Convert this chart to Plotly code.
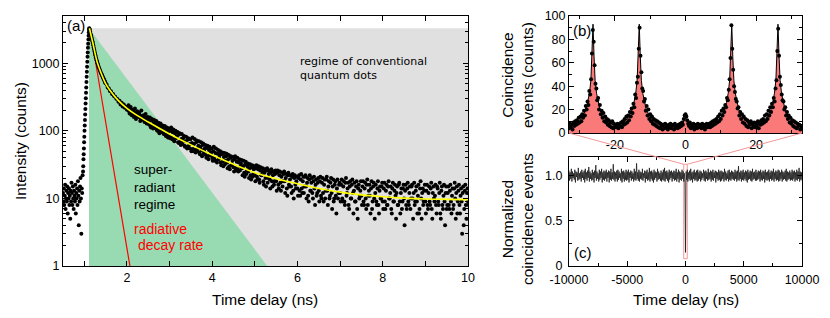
import numpy as np
import plotly.graph_objects as go

W, H = 830, 318          # browser window
OFF = 8                  # default page body margin
FW, FH = W - 2 * OFF, H - 2 * OFF

# ---------------- Panel (a): time-resolved PL (log scale) ----------------
pre_t0, pre_dt = 0.50, 0.01
pre_counts = [12, 9, 14, 8, 11, 16, 7, 10, 13, 9, 15, 6, 12, 10, 14, 8, 11, 5, 13, 9,
              17, 12, 8, 15, 10, 7, 13, 11, 9, 16, 6, 12, 10, 14, 8, 18, 11, 4, 13, 9,
              15, 20, 10, 3, 14, 12, 22]
rise_t0, rise_dt = 0.97, 0.005
rise_counts = [25, 30, 38, 45, 55, 68, 82, 100, 120, 145, 175, 210, 255, 305, 365, 440,
               530, 630, 750, 890, 1050, 1250, 1450, 1700, 1950, 2250, 2550, 2850, 3100, 3300]
early_t0, early_dt = 1.12, 0.01
early_counts = [3250, 3100, 2900, 2700, 2550, 2400, 2250, 2120, 2000, 1850, 1720, 1600, 1500,
                1400, 1310, 1230, 1160, 1100, 1050, 1000, 950, 910, 870, 840, 800, 775, 745,
                720, 700, 675, 655, 630, 610, 595, 575, 560, 540, 520, 505]
decay_t0, decay_dt = 1.525, 0.025
decay_counts = [
    480, 440, 425, 390, 385, 350, 350, 325, 320, 300, 295, 270, 280, 245, 260, 230, 245, 220, 228, 205,
    212, 195, 215, 190, 185, 200, 172, 180, 168, 190, 160, 170, 150, 165, 158, 142, 155, 138, 148, 132,
    140, 118, 142, 122, 128, 110, 130, 104, 121, 99, 115, 96, 112, 94, 106, 88, 103, 85, 96, 82,
    100, 80, 95, 74, 92, 78, 84, 68, 88, 70, 76, 64, 80, 60, 70, 58, 74, 56, 64, 54,
    66, 54, 64, 52, 68, 50, 60, 48, 58, 52, 62, 46, 55, 44, 56, 42, 52, 44, 48, 40,
    50, 40, 47, 36, 46, 38, 44, 34, 45, 35, 41, 32, 42, 34, 38, 30, 40, 31, 36, 29,
    38, 28, 35, 27, 34, 26, 33, 28, 30, 24, 32, 23, 30, 25, 28, 22, 29, 21, 27, 22,
    28, 21, 27, 19, 26, 22, 25, 18, 24, 20, 26, 17, 23, 19, 24, 18, 22, 16, 23, 18,
    24, 16, 22, 17, 21, 15, 23, 18, 20, 14, 22, 16, 19, 15, 21, 13, 20, 16, 18, 14,
    20, 13, 19, 14, 18, 12, 21, 15, 17, 11, 19, 13, 17, 12, 18, 14, 16, 11, 17, 13,
    18, 11, 17, 12, 16, 10, 19, 13, 15, 10, 17, 12, 15, 9, 16, 11, 14, 10, 16, 12,
    16, 10, 15, 9, 17, 11, 14, 8, 15, 10, 16, 12, 13, 9, 15, 7, 14, 10, 13, 11,
    15, 9, 14, 10, 16, 8, 13, 11, 14, 7, 15, 10, 12, 9, 14, 8, 13, 10, 15, 9,
    14, 9, 13, 8, 15, 10, 12, 7, 14, 9, 13, 11, 12, 8, 16, 9, 12, 7, 14, 10,
    13, 8, 14, 9, 12, 7, 15, 10, 12, 8, 13, 9, 11, 6, 14, 10, 12, 8, 13, 9,
    13, 8, 12, 9, 14, 7, 12, 10, 11, 8, 15, 9, 12, 6, 13, 8, 11, 9, 12, 7,
    12, 8, 13, 9, 11, 7, 14, 10, 12, 6, 13, 8, 11, 9, 12, 4, 13, 8, 12, 9]
# second (interleaved) set of time bins, offset by half a bin
decay2_t0, decay2_dt = 2.0375, 0.025
decay2_counts = [
    240, 180, 225, 170, 205, 160, 215, 150, 195, 175, 185, 140, 200, 148, 170, 135, 178, 128, 160, 125,
    158, 112, 150, 108, 145, 118, 140, 100, 132, 92, 128, 105, 120, 90, 118, 84, 112, 80, 108, 78,
    112, 75, 105, 70, 100, 82, 96, 66, 92, 62, 90, 72, 84, 58, 82, 55, 78, 62, 75, 50,
    80, 50, 76, 48, 72, 56, 70, 45, 68, 42, 65, 50, 62, 40, 60, 38, 58, 45, 55, 36,
    58, 36, 55, 34, 52, 40, 50, 31, 48, 30, 47, 36, 46, 28, 44, 27, 42, 32, 41, 25,
    42, 26, 40, 25, 38, 30, 37, 22, 36, 21, 35, 26, 33, 20, 32, 19, 31, 23, 30, 18,
    31, 19, 30, 17, 29, 22, 28, 16, 27, 15, 28, 20, 26, 14, 27, 15, 25, 18, 26, 13,
    26, 14, 25, 13, 24, 18, 25, 12, 23, 11, 24, 15, 22, 12, 23, 10, 22, 14, 21, 11,
    22, 11, 23, 12, 21, 15, 22, 10, 20, 9, 22, 13, 20, 10, 21, 8, 19, 12, 20, 9,
    21, 10, 20, 9, 19, 13, 21, 8, 18, 11, 20, 7, 19, 10, 18, 6, 19, 12, 17, 9,
    19, 9, 18, 8, 20, 12, 17, 7, 18, 10, 19, 6, 17, 9, 18, 5, 16, 11, 18, 8,
    18, 8, 17, 7, 19, 11, 16, 6, 18, 9, 17, 5, 16, 8, 18, 6, 15, 10, 17, 7,
    17, 7, 16, 8, 18, 10, 15, 6, 17, 9, 16, 5, 15, 8, 17, 6, 14, 9, 16, 4,
    16, 7, 17, 8, 15, 10, 16, 5, 17, 9, 15, 6, 16, 7, 18, 5, 14, 9, 16, 6,
    16, 7, 15, 8, 17, 5, 15, 9, 16, 6, 14, 8, 17, 5, 15, 7, 16, 4, 15, 8,
    15, 7, 16, 6, 14, 8, 17, 5, 15, 9, 16, 6, 14, 3, 15, 7, 16, 5, 14, 8]

fit_t = [1.12, 1.2, 1.3, 1.4, 1.5, 1.6, 1.8, 2.0, 2.2, 2.5, 3.0, 3.5, 4.0, 4.5, 5.0, 5.5,
         6.0, 6.5, 7.0, 7.5, 8.0, 8.5, 9.0, 9.5, 10.0]
fit_counts = [3300, 2000, 1050, 700, 500, 400, 280, 215, 175, 135, 90, 62, 44, 32, 24, 19.5,
              16.5, 14, 12.4, 11.3, 10.6, 10.1, 9.8, 9.7, 9.6]

# regions (ns, counts)
conv_region_t = [1.11, 10, 10, 1.11]
conv_region_c = [1, 1, 3300, 3300]
sr_region_t = [1.11, 1.11, 5.29]
sr_region_c = [1, 3300, 1]
rad_rate_t = [1.13, 2.07]
rad_rate_c = [3300, 1]

# ---------------- Panel (b): coincidence histogram ----------------
b_t0, b_dt = -33.0, 0.25
b_counts = [
    4, 8, 5, 7, 3, 9, 6, 10, 7, 11, 8, 13, 9, 14, 10, 16, 13, 19, 15, 23, 20, 27, 24, 36, 33, 46, 68,
    88,
    78, 58, 42, 38, 28, 30, 20, 24, 16, 19, 13, 17, 10, 14, 9, 12, 7, 11, 6, 9, 5, 10, 4, 8, 5, 7,
    5, 8, 4, 7, 6, 9, 5, 10, 7, 12, 8, 14, 9, 15, 11, 18, 14, 21, 17, 25, 22, 33, 30, 43, 48, 72,
    90,
    66, 52, 38, 36, 27, 29, 19, 23, 15, 20, 12, 16, 10, 14, 8, 12, 7, 11, 6, 10, 5, 9, 4, 8, 6, 3,
    7, 4, 8, 5, 6, 3, 7, 5, 8, 4, 6, 7, 3, 8, 5, 6, 4, 7, 5, 8, 6, 9, 7, 12, 15,
    16,
    14, 11, 8, 6, 9, 4, 7, 5, 8, 3, 6, 7, 4, 8, 5, 6, 7, 4, 8, 5, 7, 3, 6, 8, 5,
    6, 8, 5, 9, 6, 10, 7, 11, 8, 12, 9, 14, 10, 16, 12, 19, 15, 21, 18, 24, 22, 30, 28, 37, 46, 64,
    92,
    72, 54, 40, 35, 29, 27, 21, 22, 15, 18, 12, 16, 9, 14, 8, 12, 6, 11, 5, 9, 7, 10, 4, 8, 6, 9,
    5, 8, 6, 10, 4, 9, 7, 11, 8, 12, 9, 15, 10, 16, 12, 19, 15, 22, 18, 25, 22, 30, 27, 38, 45, 70,
    89,
    66, 48, 41, 33, 28, 27, 20, 22, 15, 18, 12, 15, 9, 13, 8, 11, 6, 10, 5, 9, 4, 8, 6, 7, 3, 6, 5]

b_fit_t = [-33, -32, -31, -30, -29.2, -28.2, -27.7, -27.2, -26.8, -26.5, -26.2, -25.9, -25.6,
           -25.2, -24.7, -24.2, -23.2, -22.2, -21.2, -19.65, -18.1, -17.1, -16.1, -15.1, -14.6,
           -14.1, -13.7, -13.4, -13.1, -12.8, -12.5, -12.1, -11.6, -11.1, -10.1, -9.1, -8.1,
           -6.55, -5, -3, -1.5, -0.8, -0.4, 0, 0.4, 0.8, 1.5, 3, 5, 6.55, 8.1, 9.1, 10.1, 11.1,
           11.6, 12.1, 12.5, 12.8, 13.1, 13.4, 13.7, 14.1, 14.6, 15.1, 16.1, 17.1, 18.1, 19.65,
           21.2, 22.2, 23.2, 24.2, 24.7, 25.2, 25.6, 25.9, 26.2, 26.5, 26.8, 27.2, 27.7, 28.2,
           29.2, 30.2, 31.2, 32.2, 33]
b_fit_counts = [6, 7, 8.5, 11, 14, 20, 26, 34, 45, 65, 93, 65, 45, 34, 26, 20, 14, 10, 8, 6,
                8, 10, 14, 20, 26, 34, 45, 65, 93, 65, 45, 34, 26, 20, 14, 10, 8, 6, 5.5, 5.5,
                6, 8, 11, 13, 11, 8, 6, 5.5, 5.5, 6, 8, 10, 14, 20, 26, 34, 45, 65, 93, 65, 45,
                34, 26, 20, 14, 10, 8, 6, 8, 10, 14, 20, 26, 34, 45, 65, 93, 65, 45, 34, 26, 20,
                14, 11, 8.5, 7, 6]
b_xticks = [-20, 0, 20]
b_xticktext = ["-20", "0", "20"]

# ---------------- Panel (c): normalized coincidences (%) ----------------
c_t0, c_dt = -10000, 50
c_norm_pct = [
    105, 94, 103, 96, 107, 93, 104, 97, 102, 95, 106, 92, 104, 98, 103, 94, 108, 95, 102, 96,
    104, 93, 106, 97, 103, 95, 105, 92, 107, 96, 103, 94, 105, 97, 109, 93, 104, 96, 102, 94,
    106, 95, 103, 92, 105, 97, 111, 94, 104, 96, 102, 93, 106, 95, 104, 97, 107, 92, 103, 95,
    105, 94, 104, 96, 106, 93, 103, 97, 105, 92, 104, 95, 107, 94, 103, 96, 112, 95, 104, 93,
    103, 96, 105, 93, 106, 95, 104, 97, 102, 94, 107, 92, 104, 96, 105, 93, 103, 95, 106, 94,
    104, 95, 106, 92, 103, 97, 105, 94, 104, 96, 102, 93, 107, 95, 104, 94, 113, 96, 103, 94,
    106, 93, 104, 96, 103, 95, 107, 94, 102, 97, 105, 92, 104, 96, 106, 94, 103, 95, 108, 93,
    104, 96, 105, 94, 103, 92, 106, 95, 104, 97, 103, 93, 107, 95, 104, 96, 102, 94, 105, 93,
    103, 95, 106, 94, 108, 93, 104, 96, 105, 94, 103, 92, 106, 95, 104, 97, 105, 93, 103, 96,
    105, 94, 104, 95, 107, 93, 103, 96, 106, 92, 104, 95, 103, 94, 106, 96, 104, 93, 102, 95,
    15,
    104, 95, 106, 93, 103, 96, 105, 94, 107, 95, 103, 92, 104, 96, 106, 94, 103, 95, 105, 93,
    106, 94, 103, 96, 105, 93, 104, 95, 102, 97, 106, 94, 104, 93, 105, 96, 103, 94, 107, 95,
    103, 96, 105, 93, 104, 95, 106, 94, 103, 97, 105, 92, 104, 96, 103, 94, 106, 95, 104, 93,
    105, 94, 104, 96, 103, 93, 107, 95, 104, 94, 102, 96, 105, 93, 106, 95, 103, 94, 105, 96,
    104, 95, 103, 94, 106, 96, 104, 93, 105, 95, 110, 94, 103, 96, 105, 93, 104, 95, 106, 94,
    103, 96, 105, 94, 104, 92, 106, 95, 103, 96, 105, 94, 104, 93, 107, 95, 103, 96, 104, 94,
    106, 94, 103, 95, 105, 96, 104, 93, 106, 95, 103, 94, 105, 96, 104, 92, 106, 95, 103, 94,
    104, 95, 106, 93, 103, 96, 105, 94, 104, 95, 107, 93, 103, 96, 105, 94, 104, 95, 106, 93,
    105, 94, 103, 96, 106, 93, 104, 95, 103, 96, 105, 94, 107, 93, 104, 95, 103, 96, 105, 94,
    103, 95, 106, 94, 104, 96, 105, 93, 103, 95, 106, 94, 104, 96, 108, 93, 104, 95, 103, 94]
c_xticks = [-10000, -5000, 0, 5000, 10000]
c_xticktext = ["-10000", "-5000", "0", "5000", "10000"]
zoom_box_t = [-150, 150, 150, -150, -150]
zoom_box_v = [0.08, 0.08, 1.12, 1.12, 0.08]

# ---------------- build series ----------------
def bins(t0, dt, vals):
    return t0 + dt * np.arange(len(vals))

a_t = np.concatenate([bins(pre_t0, pre_dt, pre_counts), bins(rise_t0, rise_dt, rise_counts),
                      bins(early_t0, early_dt, early_counts), bins(decay_t0, decay_dt, decay_counts),
                      bins(decay2_t0, decay2_dt, decay2_counts)])
a_c = np.array(pre_counts + rise_counts + early_counts + decay_counts + decay2_counts, dtype=float)
b_t = bins(b_t0, b_dt, b_counts)
c_t = bins(c_t0, c_dt, c_norm_pct)
c_v = np.array(c_norm_pct) / 100.0

# ---------------- layout geometry (window pixels -> paper) ----------------
def px_x(p):
    return (p - OFF) / FW

def px_y(p):
    return 1 - (p - OFF) / FH

dom_ax = [px_x(63), px_x(468)]
dom_ay = [px_y(266), px_y(16)]
dom_bx = [px_x(569), px_x(802)]
dom_by = [px_y(133), px_y(16)]
dom_cx = dom_bx
dom_cy = [px_y(266), px_y(157)]

FONT = "Liberation Sans, Arial, sans-serif"
tickfont = dict(family=FONT, size=12.5, color="black")

fig = go.Figure()
fig.add_trace(go.Scatter(x=conv_region_t, y=conv_region_c, fill="toself", fillcolor="#e0e0e0",
                         mode="lines", line=dict(width=0), xaxis="x", yaxis="y", hoverinfo="skip"))
fig.add_trace(go.Scatter(x=sr_region_t, y=sr_region_c, fill="toself", fillcolor="rgb(152,219,178)",
                         mode="lines", line=dict(width=0), xaxis="x", yaxis="y", hoverinfo="skip"))
fig.add_trace(go.Scatter(x=rad_rate_t, y=rad_rate_c, mode="lines", line=dict(color="red", width=1.2),
                         xaxis="x", yaxis="y"))
fig.add_trace(go.Scatter(x=a_t, y=a_c, mode="markers", marker=dict(color="black", size=4),
                         xaxis="x", yaxis="y"))
fig.add_trace(go.Scatter(x=fit_t, y=fit_counts, mode="lines", line=dict(color="#ffff00", width=1.6, shape="spline"),
                         xaxis="x", yaxis="y"))

fig.add_trace(go.Scatter(x=b_fit_t, y=b_fit_counts, mode="lines", fill="tozeroy",
                         fillcolor="rgb(250,122,122)", line=dict(color="black", width=1),
                         xaxis="x2", yaxis="y2"))
fig.add_trace(go.Scatter(x=b_t, y=b_counts, mode="markers", marker=dict(color="black", size=4),
                         xaxis="x2", yaxis="y2"))

fig.add_trace(go.Scatter(x=zoom_box_t, y=zoom_box_v, mode="lines",
                         line=dict(color="rgb(245,150,150)", width=1), xaxis="x3", yaxis="y3"))
fig.add_trace(go.Scatter(x=c_t, y=c_v, mode="lines", line=dict(color="#1a1a1a", width=0.8),
                         xaxis="x3", yaxis="y3"))

axis_common = dict(showline=True, linecolor="black", linewidth=1, mirror="ticks", ticks="inside",
                   ticklen=5, tickcolor="black", tickwidth=1, showgrid=False, zeroline=False,
                   tickfont=tickfont, automargin=False)
minor_common = dict(ticks="inside", ticklen=3, tickcolor="black", tickwidth=1, showgrid=False)

a_ticks = list(range(1, 11))
a_ticktext = [str(v) if v % 2 == 0 else "" for v in a_ticks]
log_minor = [m * 10 ** e for e in range(0, 4) for m in range(2, 10) if m * 10 ** e < 5000]

fig.update_layout(
    template="none",
    width=FW, height=FH, margin=dict(l=0, r=0, t=0, b=0, autoexpand=False), showlegend=False,
    paper_bgcolor="white", plot_bgcolor="white",
    xaxis=dict(axis_common, domain=dom_ax, range=[0.5, 10], tickmode="array", tickvals=a_ticks,
               ticktext=a_ticktext, anchor="y"),
    yaxis=dict(axis_common, domain=dom_ay, type="log", range=[0, 3.7], tickmode="array",
               tickvals=[1, 10, 100, 1000], ticktext=["1", "10", "100", "1000"], anchor="x",
               minor=dict(minor_common, tickmode="array", tickvals=log_minor)),
    xaxis2=dict(axis_common, domain=dom_bx, range=[-33, 33], tickmode="array", tickvals=b_xticks,
                ticktext=b_xticktext, anchor="y2", minor=dict(minor_common, dtick=10, tick0=0)),
    yaxis2=dict(axis_common, domain=dom_by, range=[0, 100], dtick=20, anchor="x2",
                minor=dict(minor_common, dtick=10, tick0=0)),
    xaxis3=dict(axis_common, domain=dom_cx, range=[-10000, 10000], tickmode="array",
                tickvals=c_xticks, ticktext=c_xticktext, anchor="y3", ticklabelstandoff=2,
                minor=dict(minor_common, dtick=2500, tick0=0)),
    yaxis3=dict(axis_common, domain=dom_cy, range=[0, 1.2], tickmode="array", tickvals=[0, 0.5, 1.0],
                ticktext=["0", "0.5", "1.0"], anchor="x3", ticklabelstandoff=3,
                minor=dict(minor_common, tickmode="array", tickvals=[0.25, 0.75])),
)

def ann(text, x, y, size=15, color="black", xanchor="center", yanchor="middle", angle=0,
        family=FONT, align="center"):
    fig.add_annotation(text=text, x=x, y=y, xref="paper", yref="paper", showarrow=False,
                       font=dict(family=family, size=size, color=color), xanchor=xanchor,
                       yanchor=yanchor, textangle=angle, align=align)

# axis titles
ann("Intensity (counts)", px_x(21), px_y(141), size=15.5, angle=-90)
ann("Time delay (ns)", px_x(265), px_y(299), size=15.5)
ann("Coincidence<br>events (counts)", px_x(517), px_y(75), size=15.5, angle=-90)
ann("Normalized<br>coincidence events", px_x(517), px_y(219), size=15.5, angle=-90)
ann("Time delay (ns)", px_x(686), px_y(299), size=15.5)

# panel labels
ann("(a)", px_x(65), px_y(26), size=15, xanchor="left")
ann("(b)", px_x(571), px_y(30), size=15, xanchor="left")
ann("(c)", px_x(572), px_y(252), size=15, xanchor="left")

# region labels
ann("regime of conventional<br>quantum dots", px_x(298), px_y(53), size=11, xanchor="left",
    yanchor="top", family="DejaVu Sans, Verdana, sans-serif", align="left")
ann("super-<br>radiant<br>regime", px_x(132), px_y(160), size=13.5, xanchor="left", yanchor="top",
    align="left")
ann("radiative", px_x(132), px_y(229), size=14, color="red", xanchor="left")
ann("decay rate", px_x(136), px_y(245), size=14, color="red", xanchor="left")

# zoom connector lines from panel (b) to the marked window in panel (c)
def c_paper(t, v):
    xr = fig.layout.xaxis3.range
    yr = fig.layout.yaxis3.range
    px = dom_cx[0] + (t - xr[0]) / (xr[1] - xr[0]) * (dom_cx[1] - dom_cx[0])
    py = dom_cy[0] + (v - yr[0]) / (yr[1] - yr[0]) * (dom_cy[1] - dom_cy[0])
    return px, py

for bx, (ct, cv) in [(dom_bx[0], (zoom_box_t[0], zoom_box_v[2])), (dom_bx[1], (zoom_box_t[1], zoom_box_v[2]))]:
    ex, ey = c_paper(ct, cv)
    fig.add_shape(type="line", xref="paper", yref="paper", x0=bx, y0=dom_by[0], x1=ex, y1=ey,
                  line=dict(color="rgb(245,150,150)", width=1), layer="above")

fig.write_html("out.html")
